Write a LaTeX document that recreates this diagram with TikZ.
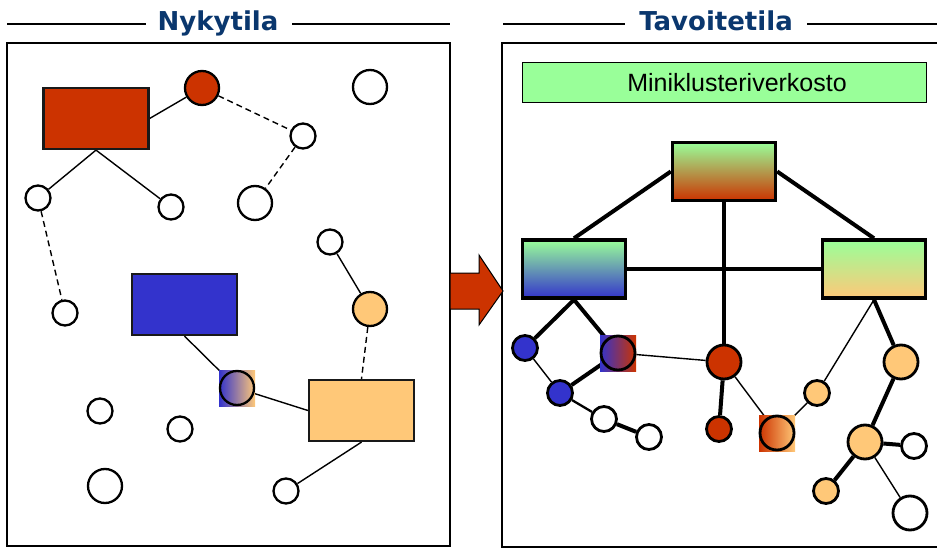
\documentclass[tikz,border=0pt]{standalone}
\usepackage{fontspec}
\setmainfont{Liberation Sans}
\newfontfamily\titlefont{DejaVu Sans}
\usetikzlibrary{backgrounds}

\definecolor{cred}{RGB}{204,51,0}
\definecolor{cblue}{RGB}{51,51,204}
\definecolor{corange}{RGB}{255,200,120}
\definecolor{cgreen}{RGB}{153,255,153}
\definecolor{ctitle}{RGB}{10,55,110}

\tikzset{
  panel/.style={draw=black, line width=2pt},
  rule/.style={draw=black, line width=2pt},
  heading/.style={font=\titlefont\bfseries\fontsize{26}{30}\selectfont, text=ctitle, anchor=base, inner sep=0pt},
  rbox/.style={draw=black!90, line width=2.2pt, rectangle, inner sep=0pt, minimum width=105pt, minimum height=61pt},
  gbox/.style={draw=black, line width=3.4pt, rectangle, inner sep=0pt, minimum width=103pt, minimum height=58pt},
  lcir/.style={draw=black, circle, line width=2.3pt, inner sep=0pt, minimum size=#1, fill=white},
  rcir/.style={draw=black, circle, line width=2.8pt, inner sep=0pt, minimum size=#1, fill=white},
  gsq/.style={rectangle, draw=none, inner sep=0pt, minimum size=36pt},
  ln/.style={draw=black, line width=1.4pt},
  dsh/.style={draw=black, line width=1.4pt, dash pattern=on 6pt off 4pt},
  thk/.style={draw=black, line width=4pt},
  med/.style={draw=black, line width=2.3pt},
}

\begin{document}
\begin{tikzpicture}[x=1pt, y=-1pt]
\useasboundingbox (0,0) rectangle (937,548);
\clip (0,0) rectangle (937,548);

% ---------- headings ----------
\node[heading] (h1) at (218,31) {Nykytila};
\draw[rule] (7,24) -- (146,24);
\draw[rule] (292,24) -- (450,24);
\node[heading] (h2) at (716,30.5) {Tavoitetila};
\draw[rule] (503,24) -- (625,24);
\draw[rule] (807,24) -- (940,24);

% ---------- frames ----------
\draw[panel] (7,43) rectangle (450,546);
\draw[panel] (942,43) -- (502,43) -- (502,546.5) -- (942,546.5);

% ---------- transition arrow ----------
\draw[fill=cred, draw=black, line width=1pt, line join=miter]
  (450,273) -- (479,273) -- (479,255) -- (503,291) -- (479,325) -- (479,309) -- (450,309) -- cycle;

% ---------- current state ----------
\node[rbox, fill=cred] (rr) at (96,118.5) {};
\node[lcir=34pt, fill=cred] (rc) at (202,88) {};
\node[lcir=34pt] (w1) at (370,87) {};
\node[lcir=25pt] (w2) at (303,136) {};
\node[lcir=25pt] (w3) at (38,198) {};
\node[lcir=25pt] (w4) at (171,207) {};
\node[lcir=34pt] (w5) at (255,203) {};
\node[lcir=25pt] (w6) at (330,242) {};
\node[lcir=34pt, fill=corange] (oc) at (370,309) {};
\node[lcir=25pt] (w7) at (65,313) {};
\node[rbox, fill=cblue] (br) at (184.5,304.5) {};
\node[gsq, left color=cblue, right color=corange] (g1sq) at (237,388) {};
\node[lcir=34pt, fill=none] (g1) at (237,388) {};
\node[rbox, fill=corange] (or) at (361.5,410.5) {};
\node[lcir=25pt] (w8) at (100,411) {};
\node[lcir=25pt] (w9) at (180,429) {};
\node[lcir=34pt] (w10) at (105,486) {};
\node[lcir=25pt] (w11) at (286,491) {};

% ---------- target state ----------
\node[rectangle, draw=black, line width=1.5pt, fill=cgreen, inner sep=0pt,
      minimum width=404pt, minimum height=40pt] (bar) at (724.5,82.5) {};
\node[font=\fontsize{25}{29}\selectfont, anchor=base, inner sep=0pt] (bartext) at (737,92) {Miniklusteriverkosto};

\node[gbox, top color=cgreen, bottom color=cred] (top) at (724,171.5) {};
\node[gbox, top color=cgreen, bottom color=cblue] (lb) at (574,269) {};
\node[gbox, top color=cgreen, bottom color=corange] (rb) at (874,269) {};

\node[rcir=25pt, fill=cblue] (A) at (525,348) {};
\node[gsq, left color=cblue, right color=cred] (Bsq) at (618,353) {};
\node[rcir=34pt, fill=none] (B) at (618,353) {};
\node[rcir=25pt, fill=cblue] (C) at (560,393) {};
\node[rcir=25pt] (D) at (604,419) {};
\node[rcir=25pt] (E) at (649,437) {};
\node[rcir=34pt, fill=cred] (F) at (724,362) {};
\node[rcir=25pt, fill=cred] (G) at (719,429) {};
\node[gsq, left color=cred, right color=corange] (Hsq) at (777,433) {};
\node[rcir=34pt, fill=none] (H) at (777,433) {};
\node[rcir=25pt, fill=corange] (I) at (817,393) {};
\node[rcir=34pt, fill=corange] (J) at (901,362) {};
\node[rcir=34pt, fill=corange] (K) at (865,442) {};
\node[rcir=25pt] (L) at (914,446) {};
\node[rcir=25pt, fill=corange] (M) at (826,491) {};
\node[rcir=34pt] (N) at (910,513) {};

% ---------- links (drawn beneath the nodes) ----------
\begin{pgfonlayer}{background}
  % current state
  \draw[ln] (rr.east) -- (rc);
  \draw[dsh] (rc) -- (w2);
  \draw[dsh] (w2) -- (w5);
  \draw[ln] (rr.south) -- (w3);
  \draw[ln] (rr.south) -- (w4);
  \draw[dsh] (w3) -- (w7);
  \draw[ln] (w6) -- (oc);
  \draw[dsh] (oc) -- (or.north);
  \draw[ln] (br.south) -- (g1);
  \draw[ln] (g1) -- (or.west);
  \draw[ln] (or.south) -- (w11);
  % target state backbone
  \draw[thk] (top.west) -- (lb.north);
  \draw[thk] (top.east) -- (rb.north);
  \draw[thk] (top.south) -- (F);
  \draw[thk] (lb.east) -- (rb.west);
  % target state clusters
  \draw[thk] (lb.south) -- (A);
  \draw[thk] (lb.south) -- (B);
  \draw[ln] (A) -- (C);
  \draw[thk] (C) -- (B);
  \draw[med] (C) -- (D);
  \draw[thk] (D) -- (E);
  \draw[ln] (B) -- (F);
  \draw[thk] (F) -- (G);
  \draw[ln] (F) -- (H);
  \draw[ln] (H) -- (I);
  \draw[ln] (I) -- (rb.south);
  \draw[thk] (rb.south) -- (J);
  \draw[thk] (J) -- (K);
  \draw[thk] (K) -- (L);
  \draw[thk] (K) -- (M);
  \draw[ln] (K) -- (N);
\end{pgfonlayer}
\end{tikzpicture}
\end{document}
